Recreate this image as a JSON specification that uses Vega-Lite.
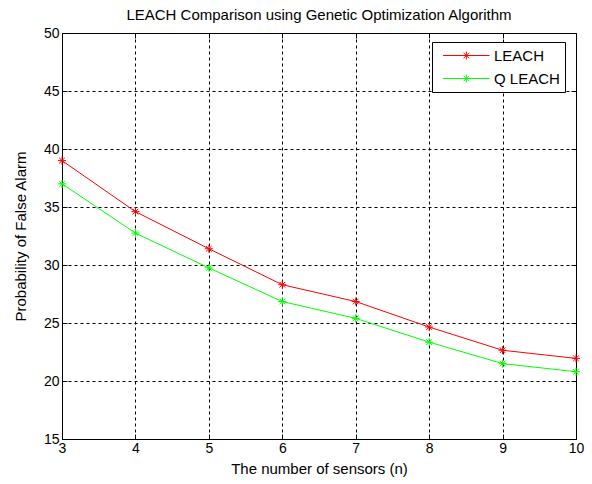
{
  "$schema": "https://vega.github.io/schema/vega-lite/v6.json",
  "width": 514,
  "height": 406,
  "autosize": "none",
  "padding": {"left": 62, "top": 33, "right": 16, "bottom": 45},
  "background": "white",
  "title": {
    "text": "LEACH Comparison using Genetic Optimization Algorithm",
    "font": "Liberation Sans",
    "fontSize": 15,
    "fontWeight": "normal",
    "color": "black",
    "frame": "group",
    "anchor": "middle",
    "offset": 3
  },
  "config": {
    "view": {"stroke": "black", "strokeWidth": 1},
    "axis": {
      "labelFont": "Liberation Sans",
      "labelFontSize": 14,
      "labelColor": "black",
      "titleFont": "Liberation Sans",
      "titleFontSize": 15,
      "titleFontWeight": "normal",
      "titleColor": "black",
      "domainColor": "black",
      "tickColor": "black",
      "tickSize": -5,
      "gridColor": "black",
      "gridOpacity": 1,
      "gridDash": [3, 3],
      "gridWidth": 1
    }
  },
  "data": {
    "values": [
      {"n": 3, "series": "LEACH", "value": 39.0},
      {"n": 4, "series": "LEACH", "value": 34.6},
      {"n": 5, "series": "LEACH", "value": 31.4},
      {"n": 6, "series": "LEACH", "value": 28.3},
      {"n": 7, "series": "LEACH", "value": 26.85},
      {"n": 8, "series": "LEACH", "value": 24.65},
      {"n": 9, "series": "LEACH", "value": 22.65},
      {"n": 10, "series": "LEACH", "value": 21.95},
      {"n": 3, "series": "Q LEACH", "value": 37.0},
      {"n": 4, "series": "Q LEACH", "value": 32.75},
      {"n": 5, "series": "Q LEACH", "value": 29.75},
      {"n": 6, "series": "Q LEACH", "value": 26.85},
      {"n": 7, "series": "Q LEACH", "value": 25.4},
      {"n": 8, "series": "Q LEACH", "value": 23.35},
      {"n": 9, "series": "Q LEACH", "value": 21.5},
      {"n": 10, "series": "Q LEACH", "value": 20.8}
    ]
  },
  "resolve": {"axis": {"x": "independent", "y": "independent"}},
  "layer": [
    {
      "mark": {"type": "line", "strokeWidth": 1},
      "encoding": {
        "x": {
          "field": "n", "type": "quantitative",
          "scale": {"domain": [3, 10], "nice": false, "zero": false},
          "axis": {
            "title": "The number of sensors (n)",
            "values": [3, 4, 5, 6, 7, 8, 9, 10],
            "format": "d",
            "grid": true,
            "labelPadding": 7,
            "titlePadding": 6,
            "labelFlush": false
          }
        },
        "y": {
          "field": "value", "type": "quantitative",
          "scale": {"domain": [15, 50], "nice": false, "zero": false},
          "axis": {
            "title": "Probability of False Alarm",
            "values": [15, 20, 25, 30, 35, 40, 45, 50],
            "grid": true,
            "labelPadding": 8,
            "titlePadding": 15
          }
        },
        "color": {
          "field": "series", "type": "nominal",
          "scale": {"domain": ["LEACH", "Q LEACH"], "range": ["#ff0000", "#00ff00"]},
          "legend": {
            "title": null,
            "orient": "none",
            "legendX": 370,
            "legendY": 9,
            "padding": 5,
            "strokeColor": "black",
            "fillColor": "white",
            "symbolType": "M-0.3,0H5.5M2.6,-0.5V0.5M2.1,0H3.1M2.25,-0.35L2.95,0.35M2.25,0.35L2.95,-0.35",
            "symbolSize": 256,
            "symbolStrokeWidth": 1,
            "symbolFillColor": "transparent",
            "labelOffset": 40,
            "labelFont": "Liberation Sans",
            "labelFontSize": 15,
            "labelColor": "black",
            "rowPadding": 6
          }
        }
      }
    },
    {
      "mark": {
        "type": "point",
        "shape": "M-1,0H1M0,-1V1M-0.7,-0.7L0.7,0.7M-0.7,0.7L0.7,-0.7",
        "size": 64,
        "filled": false,
        "strokeWidth": 1,
        "opacity": 1
      },
      "encoding": {
        "x": {
          "field": "n", "type": "quantitative",
          "axis": {"orient": "top", "labels": false, "title": null, "grid": false, "domain": false, "values": [3, 4, 5, 6, 7, 8, 9, 10]}
        },
        "y": {
          "field": "value", "type": "quantitative",
          "axis": {"orient": "right", "labels": false, "title": null, "grid": false, "domain": false, "values": [15, 20, 25, 30, 35, 40, 45, 50]}
        },
        "color": {"field": "series", "type": "nominal"}
      }
    }
  ]
}
